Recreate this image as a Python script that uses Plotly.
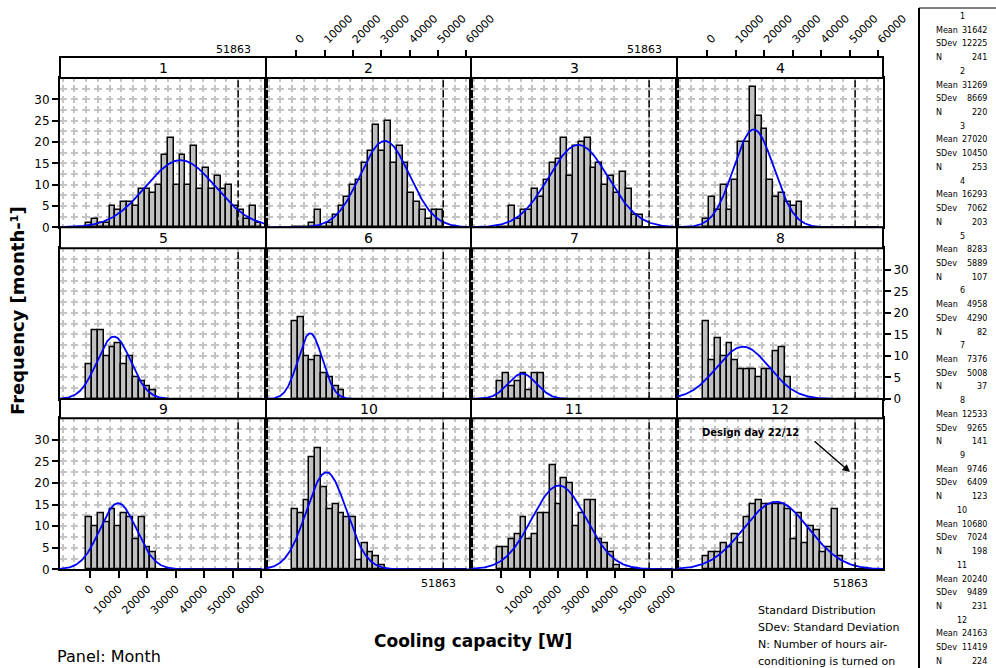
import numpy as np
import plotly.graph_objects as go

# ---------------- data ----------------
months = ["1", "2", "3", "4", "5", "6", "7", "8", "9", "10", "11", "12"]
means = [31642, 31269, 27020, 16293, 8283, 4958, 7376, 12533, 9746, 10680, 20240, 24163]
sdevs = [12225, 8669, 10450, 7062, 5889, 4290, 5008, 9265, 6409, 7024, 9489, 11419]
n_hours = [241, 220, 253, 203, 107, 82, 37, 141, 123, 198, 231, 224]

design_value = 51863
bin_start = -1450
bin_width = 2050
n_bins = 30
curve_bin = 2000

counts_m1 = [1, 2, 1, 1, 5, 4, 6, 6, 5, 9, 9, 8, 10, 17, 21, 10, 17, 10, 19, 9, 14, 9, 12, 9, 10, 5, 4, 2, 5, 1]
counts_m2 = [0, 0, 0, 1, 4, 0, 1, 3, 5, 7, 10, 11, 15, 18, 24, 18, 25, 15, 19, 15, 8, 6, 4, 2, 4, 4]
counts_m3 = [0, 0, 5, 2, 4, 4, 9, 7, 11, 15, 16, 21, 12, 19, 20, 21, 14, 15, 10, 12, 8, 13, 9, 3, 3]
counts_m4 = [2, 7, 4, 10, 4, 11, 20, 20, 33, 26, 23, 11, 7, 8, 6, 5, 6]
counts_m5 = [8, 16, 16, 10, 12, 13, 8, 10, 5, 4, 3, 2]
counts_m6 = [18, 19, 10, 9, 10, 6, 5, 3, 2]
counts_m7 = [4, 6, 3, 4, 6, 2, 6, 6]
counts_m8 = [18, 9, 14, 10, 13, 9, 7, 7, 7, 5, 7, 7, 11, 12, 5]
counts_m9 = [12, 10, 13, 11, 14, 10, 13, 12, 7, 12, 5, 4]
counts_m10 = [14, 13, 16, 26, 28, 19, 14, 15, 13, 12, 12, 2, 6, 4, 3, 1]
counts_m11 = [5, 5, 7, 8, 12, 7, 8, 13, 13, 24, 15, 21, 20, 10, 13, 16, 16, 7, 6, 4, 1]
counts_m12 = [3, 4, 4, 6, 5, 8, 6, 12, 15, 16, 15, 15, 15, 15, 14, 7, 13, 6, 10, 9, 4, 5, 14, 3]
all_counts = [counts_m1, counts_m2, counts_m3, counts_m4, counts_m5, counts_m6,
              counts_m7, counts_m8, counts_m9, counts_m10, counts_m11, counts_m12]

x_tick_vals = [0, 10000, 20000, 30000, 40000, 50000, 60000]
x_tick_text = ["0", "10000", "20000", "30000", "40000", "50000", "60000"]
y_tick_vals = [0, 5, 10, 15, 20, 25, 30]

# ---------------- layout geometry ----------------
W, H = 996, 668
col_l = [60, 266, 471, 677]
col_r = [266, 471, 677, 883]
row_t = [78, 248.3, 418.3]
row_b = [227.3, 399, 569.3]
strip_t = [57, 227.3, 399]
x_range = [-10630, 61650]
y_range = [0, 35]

FONT = "DejaVu Sans"
GRID = "#c4c4c4"
BORDER = 2

edges = bin_start + bin_width * np.arange(n_bins + 1)
centers = edges[:-1] + bin_width / 2

fig = go.Figure()
layout = {}
shapes = []
annotations = []

px_per_unit_x = (col_r[0] - col_l[0]) / (x_range[1] - x_range[0])
vspacing = 2 * bin_width * px_per_unit_x
first_v = (bin_start - 2 * bin_width * 2 - x_range[0]) * px_per_unit_x
d = 7.5
hdash = f"{first_v + d/2:.2f}px,{vspacing - d:.2f}px,{d/2 - first_v:.2f}px,0px"

tick_font = dict(family=FONT, size=11, color="black")
extra_axis = 13

for k in range(12):
    r, c = divmod(k, 4)
    ax = k + 1
    xa = "x" if ax == 1 else f"x{ax}"
    ya = "y" if ax == 1 else f"y{ax}"
    cnt = all_counts[k]

    fig.add_trace(go.Bar(
        x=centers[:len(cnt)], y=cnt, width=bin_width,
        marker=dict(color="#c0c0c0", line=dict(color="black", width=1.5)),
        xaxis=xa, yaxis=ya, showlegend=False, hoverinfo="skip"))
    fig.add_trace(go.Scatter(
        x=[edges[0], edges[-1]], y=[0, 0], mode="lines",
        line=dict(color="black", width=2.5), cliponaxis=False,
        xaxis=xa, yaxis=ya, showlegend=False, hoverinfo="skip"))
    xs = np.linspace(x_range[0], x_range[1], 400)
    ys = n_hours[k] * curve_bin * np.exp(-0.5 * ((xs - means[k]) / sdevs[k]) ** 2) / (sdevs[k] * np.sqrt(2 * np.pi))
    fig.add_trace(go.Scatter(
        x=xs, y=ys, mode="lines", line=dict(color="#0000ff", width=1.8),
        xaxis=xa, yaxis=ya, showlegend=False, hoverinfo="skip"))

    hgt = row_b[r] - row_t[r]
    step = hgt / (y_range[1] - y_range[0]) * 2.5
    vd = 7.0
    vdash = f"{vd/2:.2f}px,{step - vd:.2f}px,{vd/2:.2f}px,0px"

    top_labels = (r == 0 and c in (1, 3))
    bot_labels = (r == 2 and c in (0, 2))
    layout["xaxis" if ax == 1 else f"xaxis{ax}"] = dict(
        domain=[col_l[c] / W, col_r[c] / W], anchor=ya, range=x_range,
        showline=True, mirror=True, linecolor="black", linewidth=BORDER,
        zeroline=False, showgrid=False, automargin=False,
        tickmode="array", tickvals=x_tick_vals, ticktext=x_tick_text,
        showticklabels=bot_labels, ticks="outside" if bot_labels else "",
        ticklen=7, tickwidth=1.5, tickcolor="black",
        side="bottom", tickangle=-45, tickfont=tick_font,
        minor=dict(tickmode="linear", tick0=bin_start, dtick=2 * bin_width,
                   showgrid=True, gridcolor=GRID, gridwidth=1.6, griddash=vdash),
    )
    if top_labels:
        ex = f"x{extra_axis}"
        layout[f"xaxis{extra_axis}"] = dict(
            domain=[col_l[c] / W, col_r[c] / W], anchor="free", position=1 - strip_t[r] / H,
            overlaying=xa, range=x_range, side="top", automargin=False,
            showline=False, zeroline=False, showgrid=False,
            tickmode="array", tickvals=x_tick_vals, ticktext=x_tick_text,
            showticklabels=True, ticks="outside", ticklen=7, tickwidth=1.5, tickcolor="black",
            tickangle=-45, tickfont=tick_font)
        fig.add_trace(go.Scatter(x=[0], y=[0], xaxis=ex, yaxis=ya, mode="markers",
                                 marker=dict(opacity=0), showlegend=False, hoverinfo="skip"))
        extra_axis += 1

    show_y = (c == 0 and r in (0, 2)) or (c == 3 and r == 1)
    layout["yaxis" if ax == 1 else f"yaxis{ax}"] = dict(
        domain=[1 - row_b[r] / H, 1 - row_t[r] / H], anchor=xa, range=y_range,
        showline=True, mirror=True, linecolor="black", linewidth=BORDER, automargin=False,
        zeroline=False, showgrid=True, gridcolor=GRID, gridwidth=1.6, griddash=hdash,
        tickmode="array", tickvals=y_tick_vals,
        showticklabels=show_y, ticks="outside" if show_y else "",
        ticklen=6, tickwidth=1.5, tickcolor="black",
        side="right" if r == 1 else "left",
        tickfont=dict(family=FONT, size=12, color="black"),
        minor=dict(tickmode="linear", tick0=0, dtick=2.5, showgrid=True,
                   gridcolor=GRID, gridwidth=1.6, griddash=hdash),
    )

    shapes.append(dict(type="line", xref=xa, yref=f"{ya} domain", x0=design_value, x1=design_value,
                       y0=0, y1=1, line=dict(color="black", width=1.5, dash="7px,3px"), layer="above"))
    shapes.append(dict(type="rect", xref="paper", yref="paper",
                       x0=col_l[c] / W, x1=col_r[c] / W,
                       y0=1 - row_t[r] / H, y1=1 - strip_t[r] / H,
                       fillcolor="white", line=dict(color="black", width=BORDER), layer="above"))
    annotations.append(dict(xref="paper", yref="paper", x=(col_l[c] + col_r[c]) / 2 / W,
                            y=1 - (strip_t[r] + row_t[r]) / 2 / H, text=months[k], showarrow=False,
                            font=dict(family=FONT, size=14, color="black"),
                            xanchor="center", yanchor="middle"))
    if r == 0 and c in (0, 2):
        annotations.append(dict(xref=xa, yref="paper", x=design_value, y=1 - 49 / H,
                                text=str(design_value), showarrow=False, xshift=-5,
                                font=dict(family=FONT, size=11, color="black"),
                                xanchor="center", yanchor="middle"))
    if r == 2 and c in (1, 3):
        annotations.append(dict(xref=xa, yref="paper", x=design_value, y=1 - 583 / H,
                                text=str(design_value), showarrow=False, xshift=-5,
                                font=dict(family=FONT, size=11, color="black"),
                                xanchor="center", yanchor="middle"))

annotations.append(dict(xref="paper", yref="paper", x=18 / W, y=1 - 311 / H, text="<b>Frequency [month-¹]</b>",
                        textangle=-90, showarrow=False, font=dict(family=FONT, size=18, color="black"),
                        xanchor="center", yanchor="middle"))
annotations.append(dict(xref="paper", yref="paper", x=473 / W, y=1 - 641 / H, text="<b>Cooling capacity [W]</b>",
                        showarrow=False, font=dict(family=FONT, size=17, color="black"),
                        xanchor="center", yanchor="middle"))
annotations.append(dict(xref="paper", yref="paper", x=55 / W, y=1 - 656 / H, text="Panel: Month",
                        showarrow=False, font=dict(family=FONT, size=16, color="black"),
                        xanchor="left", yanchor="middle"))
note_lines = ["Standard Distribution", "SDev: Standard Deviation", "N: Number of hours air-",
              "conditioning is turned on"]
for i, t in enumerate(note_lines):
    annotations.append(dict(xref="paper", yref="paper", x=756 / W, y=1 - (610 + 17.3 * i) / H, text=t,
                            showarrow=False, font=dict(family=FONT, size=11, color="black"),
                            xanchor="left", yanchor="middle"))
annotations.append(dict(xref="paper", yref="paper", x=750 / W, y=1 - 432 / H, text="<b>Design day 22/12</b>",
                        showarrow=False, font=dict(family=FONT, size=10, color="black"),
                        xanchor="center", yanchor="middle"))
annotations.append(dict(xref="paper", yref="paper", x=850 / W, y=1 - 472 / H, text="",
                        showarrow=True, ax=-37, ay=-32, axref="pixel", ayref="pixel",
                        arrowhead=2, arrowsize=1, arrowwidth=1.5, arrowcolor="black", standoff=0))

shapes.append(dict(type="line", xref="paper", yref="paper", x0=919 / W, x1=919 / W, y0=0, y1=1 - 8 / H,
                   line=dict(color="black", width=2)))
shapes.append(dict(type="line", xref="paper", yref="paper", x0=919 / W, x1=1.0, y0=1 - 8 / H, y1=1 - 8 / H,
                   line=dict(color="black", width=1)))
line_h = 13.72
for k in range(12):
    base = 16.5 + line_h * 4 * k
    annotations.append(dict(xref="paper", yref="paper", x=962 / W, y=1 - base / H, text=months[k],
                            showarrow=False, font=dict(family=FONT, size=8, color="black"),
                            xanchor="center", yanchor="middle"))
    rows = [("Mean", means[k]), ("SDev", sdevs[k]), ("N", n_hours[k])]
    for j, (lab, val) in enumerate(rows):
        yy = 1 - (base + line_h * (j + 1)) / H
        annotations.append(dict(xref="paper", yref="paper", x=934 / W, y=yy, text=lab, showarrow=False,
                                font=dict(family=FONT, size=8, color="black"), xanchor="left", yanchor="middle"))
        annotations.append(dict(xref="paper", yref="paper", x=989 / W, y=yy, text=str(val), showarrow=False,
                                font=dict(family=FONT, size=8, color="black"), xanchor="right", yanchor="middle"))

fig.update_layout(
    width=W, height=H, margin=dict(l=0, r=0, t=0, b=0, pad=0, autoexpand=False),
    paper_bgcolor="white", plot_bgcolor="white",
    showlegend=False, bargap=0, barmode="overlay",
    shapes=shapes, annotations=annotations,
    **layout)

fig.write_html("out.html")
